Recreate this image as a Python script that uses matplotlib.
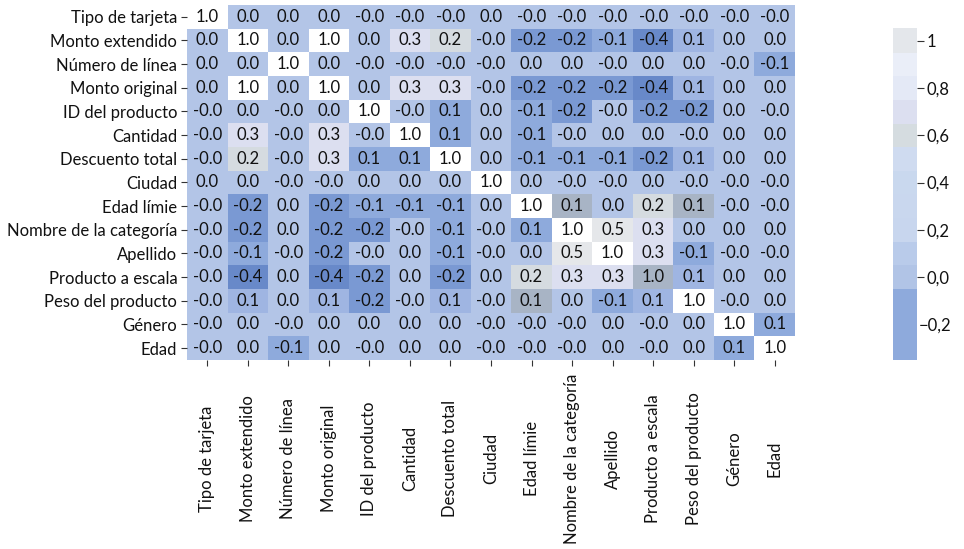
import numpy as np
import matplotlib
matplotlib.use("Agg")
import matplotlib.pyplot as plt
from matplotlib.colors import ListedColormap, BoundaryNorm
from matplotlib.cm import ScalarMappable
from matplotlib.transforms import ScaledTranslation

plt.rcParams['font.family'] = ['Lato', 'DejaVu Sans']

labels = ["Tipo de tarjeta", "Monto extendido", "Número de línea", "Monto original",
          "ID del producto", "Cantidad", "Descuento total", "Ciudad", "Edad límie",
          "Nombre de la categoría", "Apellido", "Producto a escala", "Peso del producto",
          "Género", "Edad"]

# correlation values (estimated; displayed rounded to 1 decimal)
corr = np.array([
    [1.00, 0.01, 0.01, 0.01, -0.01, -0.01, -0.01, 0.01, -0.01, -0.01, -0.01, -0.01, -0.01, -0.01, -0.01],
    [0.01, 1.00, 0.01, 1.00, 0.01, 0.30, 0.20, -0.01, -0.20, -0.20, -0.10, -0.40, 0.10, 0.01, 0.01],
    [0.01, 0.01, 1.00, 0.01, -0.01, -0.01, -0.01, -0.01, 0.01, 0.01, -0.01, 0.01, 0.01, -0.01, -0.10],
    [0.01, 1.00, 0.01, 1.00, 0.01, 0.30, 0.30, -0.01, -0.20, -0.20, -0.20, -0.40, 0.10, 0.01, 0.01],
    [-0.01, 0.01, -0.01, 0.01, 1.00, -0.01, 0.06, 0.01, -0.10, -0.20, -0.01, -0.20, -0.20, 0.01, -0.01],
    [-0.01, 0.30, -0.01, 0.30, -0.01, 1.00, 0.06, 0.01, -0.10, -0.01, 0.01, 0.01, -0.01, 0.01, 0.01],
    [-0.01, 0.20, -0.01, 0.30, 0.06, 0.06, 1.00, 0.01, -0.10, -0.10, -0.10, -0.20, 0.10, 0.01, 0.01],
    [0.01, 0.01, -0.01, -0.01, 0.01, 0.01, 0.01, 1.00, 0.01, -0.01, -0.01, 0.01, -0.01, -0.01, -0.01],
    [-0.01, -0.20, 0.01, -0.20, -0.10, -0.10, -0.10, 0.01, 1.00, 0.14, 0.01, 0.20, 0.14, -0.01, -0.01],
    [-0.01, -0.20, 0.01, -0.20, -0.20, -0.01, -0.10, -0.01, 0.07, 1.00, 0.50, 0.30, 0.01, 0.01, 0.01],
    [-0.01, -0.10, -0.01, -0.20, -0.01, 0.01, -0.10, -0.01, 0.01, 0.50, 1.00, 0.30, -0.10, -0.01, -0.01],
    [-0.01, -0.40, 0.01, -0.40, -0.20, 0.01, -0.20, 0.01, 0.20, 0.30, 0.30, 0.96, 0.10, 0.01, 0.01],
    [-0.01, 0.10, 0.01, 0.10, -0.20, -0.01, 0.10, -0.01, 0.14, 0.01, -0.10, 0.10, 1.00, -0.01, 0.01],
    [-0.01, 0.01, -0.01, 0.01, 0.01, 0.01, 0.01, -0.01, -0.01, -0.01, 0.01, -0.01, 0.01, 1.00, 0.06],
    [-0.01, 0.01, -0.10, 0.01, -0.01, 0.01, 0.01, -0.01, -0.01, -0.01, 0.01, -0.01, 0.01, 0.06, 1.00],
])

# cell colour scale
cell_bounds = [-1.0, -0.3, -0.15, -0.05, 0.05, 0.08, 0.12, 0.15, 0.25, 0.4, 0.9, 0.98, 1.01]
cell_colors = ['#6889c9', '#7a99d3', '#8eaadc', '#b3c5e7', '#8eaadc', '#9fb5e2',
               '#a8b4c5', '#d5dbe0', '#dcdff0', '#e5e7ea', '#a8b4c5', '#ffffff']

# colorbar scale
cbar_bounds = [-0.352, -0.05, 0.05, 0.15, 0.25, 0.35, 0.45, 0.55, 0.65, 0.75, 0.85, 0.95, 1.055]
cbar_colors = ['#8eaadc', '#b1c4e6', '#b9cbea', '#c8d6ee', '#c9d7ee', '#c9d8ee',
               '#cfdbf0', '#d5dce0', '#dcdff0', '#e4e9f6', '#eaeef8', '#e4e7eb']
cbar_ticks = [1.0, 0.8, 0.6, 0.4, 0.2, 0.0, -0.2]
cbar_ticklabels = ["1", "0,8", "0,6", "0,4", "0,2", "0,0", "\u22120,2"]

fig = plt.figure(figsize=(9.64, 5.49), dpi=100)
ax = fig.add_axes([0.194, 0.3443, 0.6307, 0.6466])
cax = fig.add_axes([0.9263, 0.3443, 0.0249, 0.6047])

n = len(labels)
cmap = ListedColormap(cell_colors)
norm = BoundaryNorm(cell_bounds, cmap.N)
ax.pcolormesh(np.arange(n + 1), np.arange(n + 1), corr, cmap=cmap, norm=norm)
ax.set_xlim(0, n)
ax.set_ylim(n, 0)
for i in range(n):
    for j in range(n):
        ax.text(j + 0.5, i + 0.5, f"{corr[i, j]:.1f}", ha='center', va='center',
                fontsize=12, color='#111111')

for s in ax.spines.values():
    s.set_visible(False)
ax.set_xticks(np.arange(n) + 0.5)
ax.set_yticks(np.arange(n) + 0.5)
ax.set_xticklabels(labels, rotation=90, va='center', ha='center')
ax.set_yticklabels(labels)
ax.tick_params(axis='x', length=4, width=0.8, color='#333333', pad=67, labelsize=12,
               labelcolor='#111111')
ax.tick_params(axis='y', length=4, width=0.8, color='#333333', pad=3, labelsize=12,
               labelcolor='#111111')

ccmap = ListedColormap(cbar_colors)
cnorm = BoundaryNorm(cbar_bounds, ccmap.N)
sm = ScalarMappable(norm=cnorm, cmap=ccmap)
cb = fig.colorbar(sm, cax=cax, spacing='proportional', ticks=cbar_ticks)
cb.outline.set_visible(False)
cb.minorticks_off()
cb.set_ticklabels(cbar_ticklabels)
cax.tick_params(length=5, width=0.8, color='#333333', pad=2, labelsize=12,
                labelcolor='#111111')

# the -0,2 label sits where its tick mark would be
ticks = cax.yaxis.get_major_ticks()
for t, v in zip(ticks, cbar_ticks):
    if v < 0:
        t.tick2line.set_visible(False)
        lbl = t.label2
        lbl.set_transform(lbl.get_transform() + ScaledTranslation(-6 / 72, 0, fig.dpi_scale_trans))

fig.savefig("out.png", dpi=100)
